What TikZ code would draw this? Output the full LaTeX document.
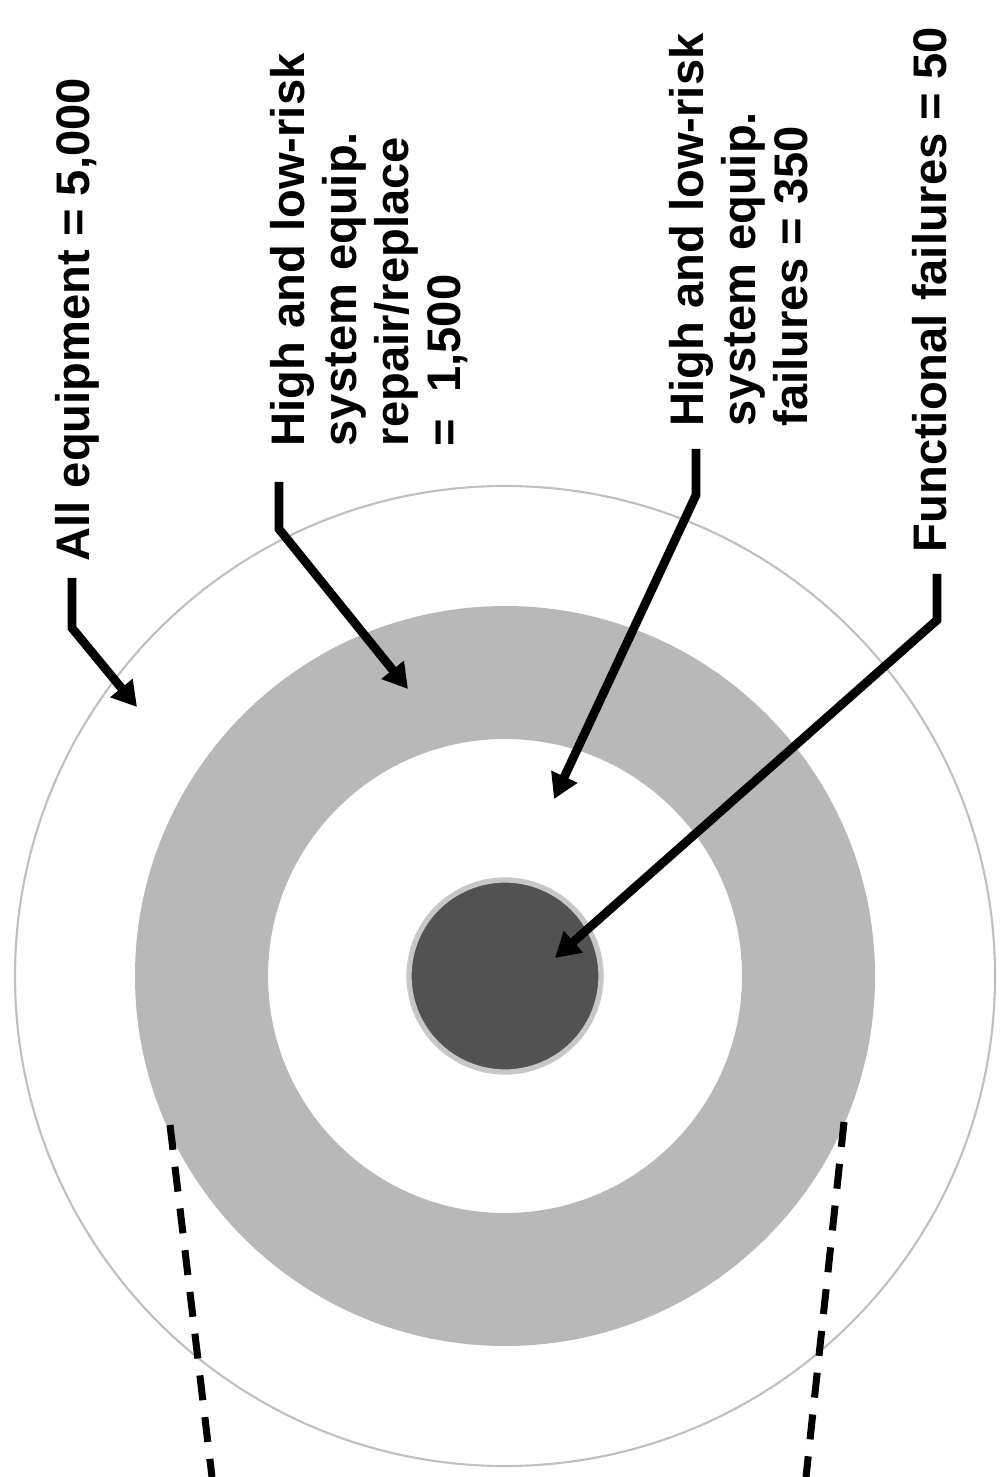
\documentclass[tikz,border=0pt]{standalone}
\usepackage{fontspec}
\setmainfont{Liberation Sans}
\usetikzlibrary{arrows.meta}

\tikzset{
  lbl/.style={rotate=90,anchor=north west,inner sep=0pt,align=left,
    font=\fontsize{13.4pt}{14.8pt}\selectfont\bfseries},
  pointer/.style={line width=2.5pt,-{Triangle[length=7pt,width=7.8pt]}},
  bound/.style={line width=2pt,dash pattern=on 0.25cm off 0.17cm}
}

\begin{document}
\begin{tikzpicture}[x=0.01cm,y=-0.01cm]
\useasboundingbox (0,0) rectangle (1007,1477);

% target rings
\coordinate (c) at (505,976);
\draw[black!25,line width=0.6pt] (c) circle (490);
\fill[black!28,even odd rule] (c) circle (370) (c) circle (237);
\draw[black!22,fill=black!68,line width=1.5pt] (c) circle (96);

% labels
\node[lbl] (all) at (55,562) {All equipment = 5,000};
\node[lbl] (repair) at (270,447) {High and low-risk\\system equip.\\repair/replace\\=\ \ 1,500};
\node[lbl] (fail) at (669,427) {High and low-risk\\system equip.\\failures = 350};
\node[lbl] (func) at (912,553) {Functional failures = 50};

% leader points
\coordinate (allA) at (72,578);   \coordinate (allB) at (72,628);   \coordinate (allC) at (137,707);
\coordinate (repA) at (279,482);  \coordinate (repB) at (279,529);  \coordinate (repC) at (408,689);
\coordinate (failA) at (696,449); \coordinate (failB) at (696,495); \coordinate (failC) at (554,799);
\coordinate (funcA) at (937,574); \coordinate (funcB) at (937,620); \coordinate (funcC) at (555,958);

\foreach \p in {all,rep,fail,func}
{
\draw[pointer] (\p A) -- (\p B) -- (\p C);
}

% cut lines
\coordinate (lt) at (170,1125); \coordinate (lb) at (212,1477);
\coordinate (rt) at (844,1122); \coordinate (rb) at (806,1477);
\draw[bound] (lt) -- (lb);
\draw[bound] (rt) -- (rb);

\end{tikzpicture}
\end{document}
